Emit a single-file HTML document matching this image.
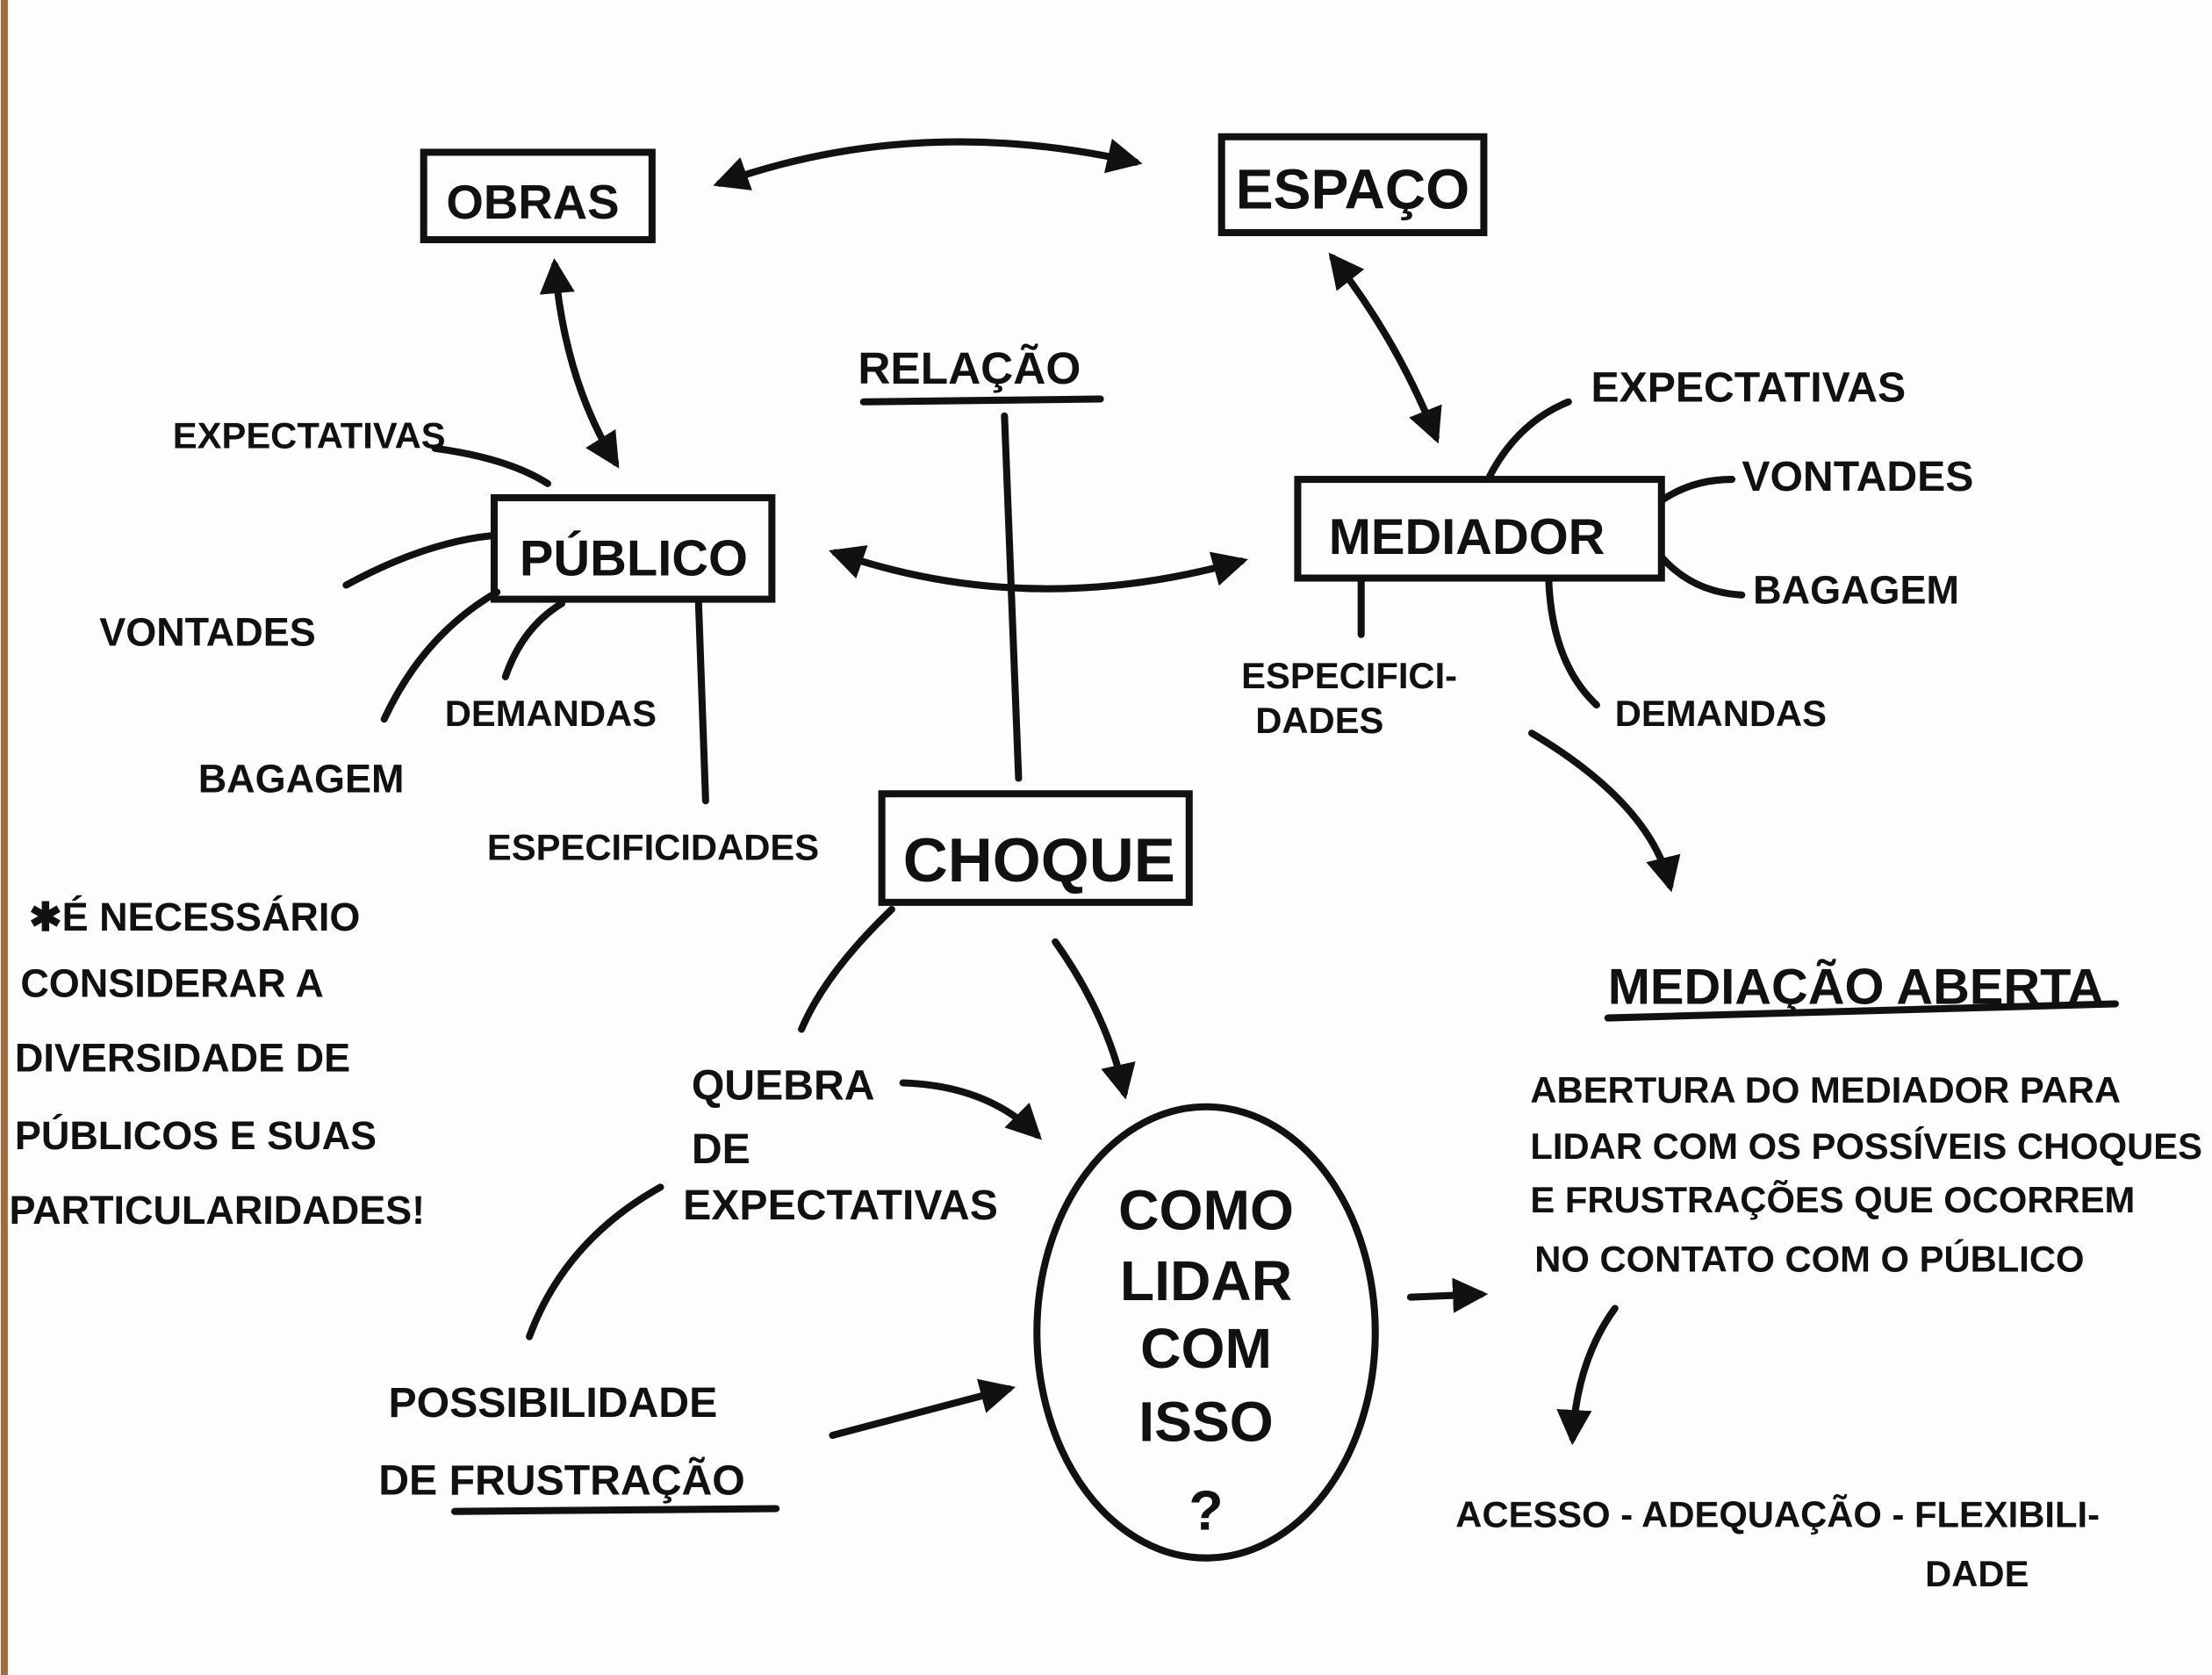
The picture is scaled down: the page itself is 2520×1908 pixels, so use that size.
<!DOCTYPE html>
<html><head><meta charset="utf-8"><style>
html,body{margin:0;padding:0;background:#fff;}
svg{display:block}
text{font-family:"Liberation Sans",sans-serif;font-weight:bold;fill:#111;}
</style></head><body>
<svg width="2520" height="1908" viewBox="0 0 1568 1188" xmlns="http://www.w3.org/2000/svg">
<defs>
<marker id="a" viewBox="0 0 10 10" refX="8" refY="5" markerWidth="5" markerHeight="5" orient="auto-start-reverse"><path d="M0,0 L10,5 L0,10 z" fill="#111"/></marker>
</defs>
<rect width="1568" height="1188" fill="#fdfdfc"/>
<rect x="0" y="0" width="5" height="1188" fill="#a06a3a"/>
<g stroke="#111" stroke-width="5" fill="none" stroke-linecap="round">
<!-- boxes -->
<rect x="300" y="108" width="162" height="62"/>
<rect x="866" y="97" width="186" height="68"/>
<rect x="350" y="353" width="197" height="72"/>
<rect x="920" y="340" width="258" height="70"/>
<rect x="625" y="563" width="218" height="77"/>
<ellipse cx="855" cy="945" rx="120" ry="160"/>
<!-- arrows -->
<path d="M510,130 Q650,80 805,115" marker-start="url(#a)" marker-end="url(#a)"/>
<path d="M393,188 Q400,270 436,328" marker-start="url(#a)" marker-end="url(#a)"/>
<path d="M945,183 Q990,240 1018,310" marker-start="url(#a)" marker-end="url(#a)"/>
<path d="M592,392 Q730,440 880,398" marker-start="url(#a)" marker-end="url(#a)"/>
<path d="M712,295 L722,552"/>
<path d="M612,285 L780,283"/>
<!-- publico branches -->
<path d="M308,318 Q360,325 388,343"/>
<path d="M245,415 Q300,385 348,380"/>
<path d="M272,510 Q300,450 352,420"/>
<path d="M358,480 Q370,445 398,428"/>
<path d="M495,428 L500,568"/>
<!-- mediador branches -->
<path d="M1055,340 Q1075,300 1112,285"/>
<path d="M1178,355 Q1200,340 1228,340"/>
<path d="M1178,395 Q1200,420 1235,422"/>
<path d="M1098,410 Q1100,470 1132,500"/>
<path d="M965,412 L965,450"/>
<path d="M1086,520 Q1170,570 1184,628" marker-end="url(#a)"/>
<!-- choque -->
<path d="M632,645 Q585,690 568,730"/>
<path d="M748,668 Q785,720 797,775" marker-end="url(#a)"/>
<path d="M640,768 Q700,770 735,805" marker-end="url(#a)"/>
<path d="M468,842 Q400,880 375,948"/>
<path d="M590,1018 L715,985" marker-end="url(#a)"/>
<path d="M1000,920 L1050,918" marker-end="url(#a)"/>
<path d="M1145,928 Q1118,965 1115,1020" marker-end="url(#a)"/>
<!-- underlines -->
<path d="M1140,722 L1500,712"/>
<path d="M322,1072 L550,1070"/>
</g>
<text x="316" y="155" font-size="34">OBRAS</text>
<text x="876" y="148" font-size="40">ESPAÇO</text>
<text x="368" y="408" font-size="36">PÚBLICO</text>
<text x="942" y="393" font-size="36">MEDIADOR</text>
<text x="640" y="625" font-size="44" font-weight="normal">CHOQUE</text>
<text x="608" y="272" font-size="32">RELAÇÃO</text>
<text x="122" y="318" font-size="26">EXPECTATIVAS</text>
<text x="70" y="458" font-size="28">VONTADES</text>
<text x="315" y="515" font-size="26">DEMANDAS</text>
<text x="140" y="562" font-size="28">BAGAGEM</text>
<text x="345" y="610" font-size="26">ESPECIFICIDADES</text>
<text x="1128" y="285" font-size="30">EXPECTATIVAS</text>
<text x="1235" y="348" font-size="30">VONTADES</text>
<text x="1243" y="428" font-size="28">BAGAGEM</text>
<text x="880" y="488" font-size="26">ESPECIFICI-</text>
<text x="890" y="520" font-size="26">DADES</text>
<text x="1145" y="515" font-size="26">DEMANDAS</text>
<g font-size="28">
<text x="20" y="660">✱É NECESSÁRIO</text>
<text x="14" y="707">CONSIDERAR A</text>
<text x="10" y="760">DIVERSIDADE DE</text>
<text x="10" y="815">PÚBLICOS E SUAS</text>
<text x="6" y="868">PARTICULARIDADES!</text>
</g>
<g font-size="30">
<text x="490" y="780">QUEBRA</text>
<text x="490" y="825">DE</text>
<text x="484" y="865">EXPECTATIVAS</text>
<text x="275" y="1005">POSSIBILIDADE</text>
<text x="268" y="1060">DE FRUSTRAÇÃO</text>
</g>
<g font-size="40" text-anchor="middle">
<text x="855" y="872">COMO</text>
<text x="855" y="922">LIDAR</text>
<text x="855" y="970">COM</text>
<text x="855" y="1022">ISSO</text>
<text x="855" y="1085">?</text>
</g>
<text x="1140" y="712" font-size="36">MEDIAÇÃO ABERTA</text>
<g font-size="26">
<text x="1085" y="782">ABERTURA DO MEDIADOR PARA</text>
<text x="1085" y="822">LIDAR COM OS POSSÍVEIS CHOQUES</text>
<text x="1085" y="860">E FRUSTRAÇÕES QUE OCORREM</text>
<text x="1088" y="902">NO CONTATO COM O PÚBLICO</text>
<text x="1032" y="1083">ACESSO - ADEQUAÇÃO - FLEXIBILI-</text>
<text x="1365" y="1125">DADE</text>
</g>
</svg>
</body></html>
